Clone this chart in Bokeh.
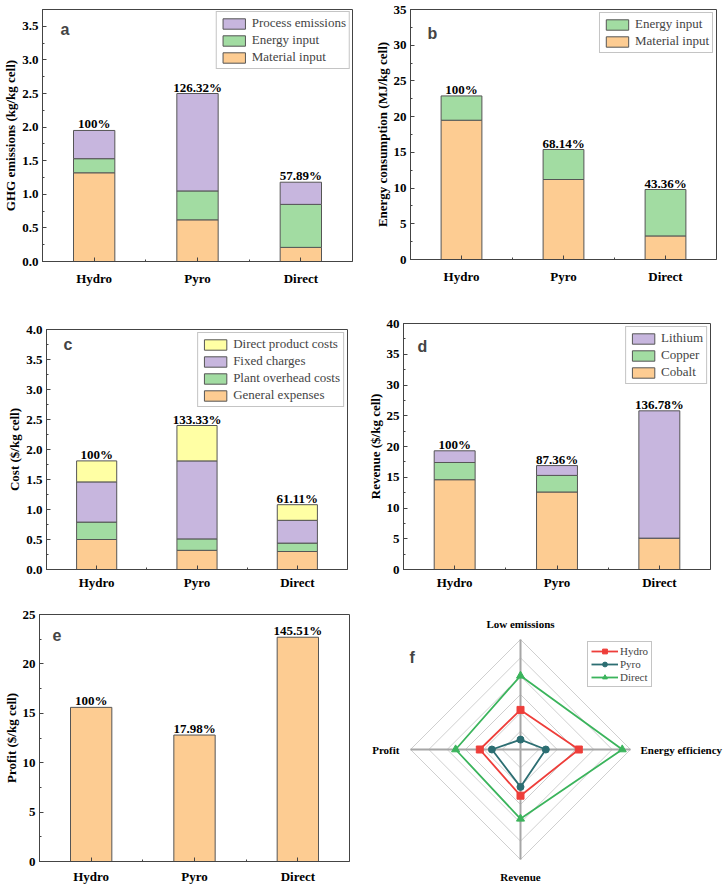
import math
from bokeh.plotting import figure
from bokeh.layouts import column, row
from bokeh.models import (ColumnDataSource, FixedTicker, SingleIntervalTicker,
                          NumeralTickFormatter, Legend, LegendItem, Label, Range1d)
from bokeh.embed import file_html
from bokeh.resources import INLINE
from bokeh.core.properties import value

# ---------------- data ----------------
categories = ["Hydro", "Pyro", "Direct"]

# (a) GHG emissions (kg/kg cell)
ghg_material = [1.32, 0.62, 0.21]
ghg_energy = [0.21, 0.43, 0.64]
ghg_process = [0.42, 1.45, 0.33]
ghg_pct = ["100%", "126.32%", "57.89%"]

# (b) Energy consumption (MJ/kg cell)
en_material = [19.5, 11.2, 3.3]
en_energy = [3.4, 4.2, 6.5]
en_pct = ["100%", "68.14%", "43.36%"]

# (c) Cost ($/kg cell)
cost_general = [0.50, 0.32, 0.30]
cost_overhead = [0.29, 0.19, 0.14]
cost_fixed = [0.67, 1.30, 0.38]
cost_direct = [0.35, 0.59, 0.26]
cost_pct = ["100%", "133.33%", "61.11%"]

# (d) Revenue ($/kg cell)
rev_cobalt = [14.6, 12.6, 5.1]
rev_copper = [2.8, 2.7, 0.0]
rev_lithium = [1.9, 1.6, 20.7]
rev_pct = ["100%", "87.36%", "136.78%"]

# (e) Profit ($/kg cell)
profit = [15.6, 12.8, 22.7]
profit_pct = ["100%", "17.98%", "145.51%"]

# (f) radar (fraction of full scale)
radar_axes = ["Low emissions", "Energy efficiency", "Revenue", "Profit"]
radar_angles_deg = [90, 0, 270, 180]
radar_hydro = [0.36, 0.53, 0.42, 0.37]
radar_pyro = [0.09, 0.23, 0.34, 0.26]
radar_direct = [0.67, 0.925, 0.63, 0.59]
radar_rings = 6

# ---------------- style ----------------
ORANGE = "#FDCC92"
GREEN = "#A2DCA2"
PURPLE = "#C7B6DE"
YELLOW = "#FFFFA4"
EDGE = "#555555"
AXC = "#444444"
SERIF = "Liberation Serif"
SANS = "Liberation Sans"


def bar_panel(w, h, borders, y_end, interval, fmt, ylabel, names, series, colors,
              pct, letter, lpos, x_standoff, legend_margin=3):
    p = figure(width=w, height=h, x_range=Range1d(0.5, 3.5), y_range=Range1d(0, y_end),
               output_backend="svg", toolbar_location=None, frame_align=False,
               min_border_left=borders[0], min_border_right=borders[1],
               min_border_top=borders[2], min_border_bottom=borders[3])
    data = {"x": [1, 2, 3]}
    keys = []
    for i, s in enumerate(series):
        data[f"s{i}"] = s
        keys.append(f"s{i}")
    src = ColumnDataSource(data)
    rs = p.vbar_stack(keys, x="x", width=0.4, fill_color=colors, line_color=EDGE,
                      line_width=1, source=src)
    tops = [sum(v) for v in zip(*series)]
    p.text(x=[1, 2, 3], y=tops, text=pct, text_align="center", text_baseline="bottom",
           y_offset=1, text_font=value(SERIF), text_font_style="bold",
           text_font_size="13px", text_color="black")
    if names:
        items = [LegendItem(label=n, renderers=[r]) for n, r in zip(names, rs)][::-1]
        lg = Legend(items=items, location="top_right", margin=legend_margin)
        lg.glyph_width = 28
        lg.glyph_height = 13
        lg.label_height = 13
        lg.spacing = 1
        lg.padding = 3
        lg.label_standoff = 4
        lg.label_text_font = SERIF
        lg.label_text_font_size = "13px"
        lg.border_line_color = "#8a8a8a"
        lg.border_line_width = 1
        p.add_layout(lg)
    p.add_layout(Label(x=lpos[0], y=lpos[1], x_units="screen", y_units="screen", text=letter,
                       text_font=SANS, text_font_style="bold", text_font_size="16px",
                       text_baseline="alphabetic"))
    p.xaxis.ticker = FixedTicker(ticks=[1, 2, 3], minor_ticks=[1.5, 2.5])
    p.xaxis.major_label_overrides = {1: categories[0], 2: categories[1], 3: categories[2]}
    p.xaxis.major_label_standoff = x_standoff
    p.yaxis.ticker = SingleIntervalTicker(interval=interval, num_minor_ticks=2)
    p.yaxis.formatter = NumeralTickFormatter(format=fmt)
    p.yaxis.major_label_standoff = 4
    p.yaxis.axis_label = ylabel
    p.yaxis.axis_label_standoff = 1
    p.yaxis.axis_label_text_font = SERIF
    p.yaxis.axis_label_text_font_style = "bold"
    p.yaxis.axis_label_text_font_size = "13px"
    p.yaxis.axis_label_text_color = "black"
    for ax in (p.xaxis, p.yaxis):
        ax.major_tick_in = 4
        ax.major_tick_out = 0
        ax.minor_tick_in = 2
        ax.minor_tick_out = 0
        ax.axis_line_color = AXC
        ax.major_tick_line_color = AXC
        ax.minor_tick_line_color = AXC
        ax.major_label_text_font = SERIF
        ax.major_label_text_font_style = "bold"
        ax.major_label_text_font_size = "13px"
        ax.major_label_text_color = "black"
    p.xgrid.visible = False
    p.ygrid.visible = False
    p.outline_line_color = AXC
    p.outline_line_alpha = 1
    return p


pa = bar_panel(364, 300, (42, 12, 9, 39), 3.75, 0.5, "0.0", "GHG emissions (kg/kg cell)",
               ["Material input", "Energy input", "Process emissions"],
               [ghg_material, ghg_energy, ghg_process], [ORANGE, GREEN, PURPLE],
               ghg_pct, "a", (18, 232), 9, legend_margin=2)
pb = bar_panel(364, 300, (46, 12, 9, 41), 35, 5, "0", "Energy consumption (MJ/kg cell)",
               ["Material input", "Energy input"],
               [en_material, en_energy], [ORANGE, GREEN],
               en_pct, "b", (17, 226), 9)
pc = bar_panel(364, 292, (46, 17, 29, 20), 4.0, 0.5, "0.0", "Cost ($/kg cell)",
               ["General expenses", "Plant overhead costs", "Fixed charges", "Direct product costs"],
               [cost_general, cost_overhead, cost_fixed, cost_direct],
               [ORANGE, GREEN, PURPLE, YELLOW],
               cost_pct, "c", (17, 225), 5)
pd = bar_panel(364, 292, (39, 18, 23, 22), 40, 5, "0", "Revenue ($/kg cell)",
               ["Cobalt", "Copper", "Lithium"],
               [rev_cobalt, rev_copper, rev_lithium], [ORANGE, GREEN, PURPLE],
               rev_pct, "d", (14, 223), 5)
pe = bar_panel(364, 294, (37, 15, 22, 22), 25, 5, "0", "Profit ($/kg cell)",
               [], [profit], [ORANGE],
               profit_pct, "e", (13, 227), 7)

# ---------------- radar ----------------
FW, FH = 364, 294
R_PX = 110.0
CX, CY = 156.0, 157.0
pf = figure(width=FW, height=FH, output_backend="svg", toolbar_location=None,
            frame_align=False,
            x_range=Range1d(-CX / R_PX, (FW - CX) / R_PX),
            y_range=Range1d(-(FH - CY) / R_PX, CY / R_PX),
            x_axis_location=None, y_axis_location=None,
            min_border_left=0, min_border_right=0, min_border_top=0, min_border_bottom=0)
pf.xgrid.visible = False
pf.ygrid.visible = False
pf.outline_line_color = None

angs = [math.radians(a) for a in radar_angles_deg]
ring_xs, ring_ys = [], []
for k in range(1, radar_rings + 1):
    r = k / radar_rings
    ring_xs.append([r * math.cos(a) for a in angs + angs[:1]])
    ring_ys.append([r * math.sin(a) for a in angs + angs[:1]])
pf.multi_line(ring_xs, ring_ys, line_color="#cfcfcf", line_width=1)
pf.multi_line([[0, math.cos(a)] for a in angs], [[0, math.sin(a)] for a in angs],
              line_color="#a6a6a6", line_width=2)

series_defs = [("Hydro", radar_hydro, "#EE3E3A", "square", 7),
               ("Pyro", radar_pyro, "#2C6E72", "circle", 7),
               ("Direct", radar_direct, "#3BB45C", "triangle", 8)]
leg_items = []
for name, vals, col, mk, sz in series_defs:
    xs = [v * math.cos(a) for v, a in zip(vals, angs)]
    ys = [v * math.sin(a) for v, a in zip(vals, angs)]
    lr = pf.line(xs + xs[:1], ys + ys[:1], line_color=col, line_width=1.8)
    sr = pf.scatter(xs, ys, marker=mk, size=sz, fill_color=col, line_color=col)
    leg_items.append(LegendItem(label=name, renderers=[lr, sr]))

label_cfg = [("center", "bottom", 0, -10), ("left", "middle", 10, 0),
             ("center", "top", 0, 11), ("right", "middle", -11, 0)]
for name, a, (al, bl, xo, yo) in zip(radar_axes, angs, label_cfg):
    pf.text(x=[math.cos(a)], y=[math.sin(a)], text=[name], text_align=al, text_baseline=bl,
            x_offset=xo, y_offset=yo, text_font=value(SERIF), text_font_style="bold",
            text_font_size="11px", text_color="black")

lgf = Legend(items=leg_items, location=(223, 199))
lgf.glyph_width = 27
lgf.glyph_height = 12
lgf.label_height = 12
lgf.spacing = 1
lgf.padding = 3
lgf.label_standoff = 2
lgf.label_text_font = SERIF
lgf.label_text_font_size = "11px"
lgf.border_line_color = "#8a8a8a"
pf.add_layout(lgf)
pf.add_layout(Label(x=45, y=229, x_units="screen", y_units="screen", text="f",
                    text_font=SANS, text_font_style="bold", text_font_size="16px",
                    text_baseline="alphabetic"))

layout = column(row(pa, pb), row(pc, pd), row(pe, pf))
open("out.html", "w").write(file_html(layout, INLINE))
